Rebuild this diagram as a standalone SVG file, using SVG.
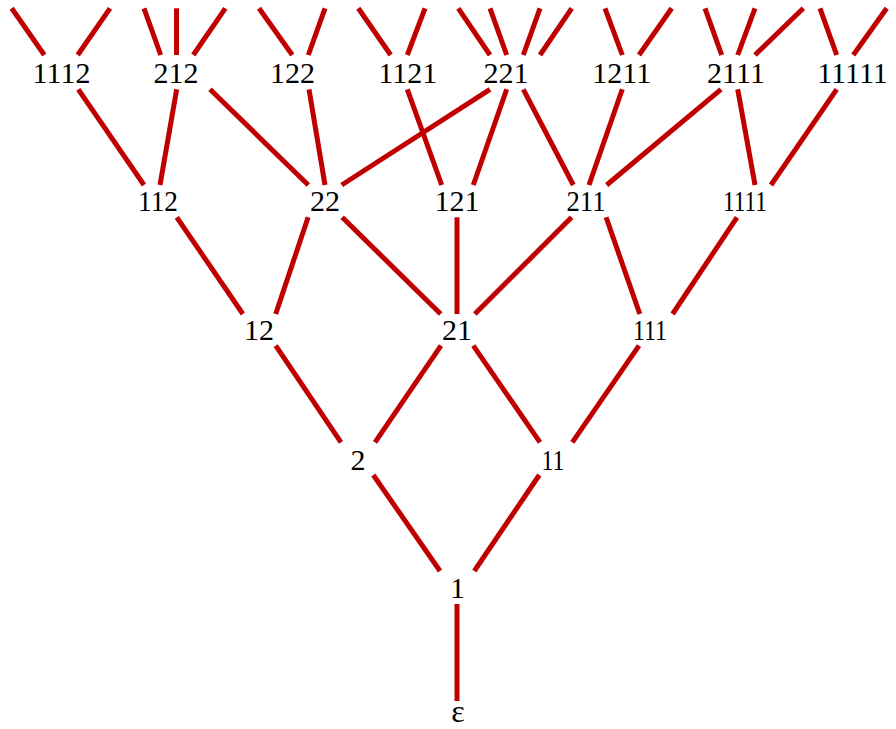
<svg xmlns="http://www.w3.org/2000/svg" width="896" height="729" viewBox="0 0 896 729">
<style>
.e line{stroke:#c00000;stroke-width:5;stroke-linecap:butt}
text{font-family:"Liberation Serif","Times New Roman",serif;font-size:30px;fill:#000;text-anchor:middle}
</style>
<rect width="896" height="729" fill="#fff"/>
<g id="connectors" class="e">
<line x1="11.7" y1="8.3" x2="44.3" y2="55"/>
<line x1="110" y1="8.3" x2="77.7" y2="55"/>
<line x1="144" y1="8.3" x2="160.7" y2="55"/>
<line x1="176.5" y1="8.3" x2="176.5" y2="55"/>
<line x1="225.3" y1="8.3" x2="193.3" y2="55"/>
<line x1="259" y1="8.3" x2="292.3" y2="55"/>
<line x1="325" y1="8.3" x2="308.3" y2="55"/>
<line x1="358.3" y1="8.3" x2="390.7" y2="55"/>
<line x1="425" y1="8.3" x2="407.3" y2="55"/>
<line x1="458.3" y1="8.3" x2="490" y2="55"/>
<line x1="490" y1="8.3" x2="506.7" y2="55"/>
<line x1="540" y1="8.3" x2="523.3" y2="55"/>
<line x1="571.7" y1="8.3" x2="540" y2="55"/>
<line x1="605" y1="8.3" x2="622.3" y2="55"/>
<line x1="671.7" y1="8.3" x2="639" y2="55"/>
<line x1="705" y1="8.3" x2="721.7" y2="55"/>
<line x1="755" y1="8.3" x2="737.7" y2="55"/>
<line x1="803.3" y1="8.3" x2="755" y2="55"/>
<line x1="820" y1="8.3" x2="836.7" y2="55"/>
<line x1="886.7" y1="8.3" x2="853.3" y2="55"/>

<line x1="78.3" y1="89.3" x2="144" y2="185"/>
<line x1="176.7" y1="89.3" x2="160" y2="185"/>
<line x1="210" y1="89.3" x2="308.3" y2="185"/>
<line x1="309" y1="89.3" x2="325" y2="185"/>
<line x1="407.3" y1="89.3" x2="441.7" y2="185"/>
<line x1="490" y1="89.3" x2="341.7" y2="185"/>
<line x1="506.7" y1="89.3" x2="473.3" y2="185"/>
<line x1="523.3" y1="89.3" x2="573.3" y2="185"/>
<line x1="622.3" y1="89.3" x2="589" y2="185"/>
<line x1="721" y1="89.3" x2="606.7" y2="185"/>
<line x1="737.7" y1="89.3" x2="755" y2="185"/>
<line x1="836.7" y1="89.3" x2="771" y2="185"/>

<line x1="176.8" y1="217.3" x2="242.9" y2="314"/>
<line x1="308.1" y1="217.3" x2="275.7" y2="314"/>
<line x1="342.2" y1="217.3" x2="440.7" y2="314"/>
<line x1="457" y1="217.3" x2="457" y2="314"/>
<line x1="571.6" y1="217.3" x2="474.8" y2="314"/>
<line x1="606.1" y1="217.3" x2="639.8" y2="314"/>
<line x1="737" y1="217.3" x2="672.6" y2="314"/>

<line x1="275.7" y1="345.7" x2="341" y2="442.3"/>
<line x1="441" y1="345.7" x2="375" y2="442.3"/>
<line x1="473.3" y1="345.7" x2="540" y2="442.3"/>
<line x1="639" y1="345.7" x2="572.3" y2="442.3"/>

<line x1="373.3" y1="475" x2="440" y2="571"/>
<line x1="539.3" y1="475" x2="474.3" y2="571"/>
<line x1="457" y1="604" x2="457" y2="701"/>
</g>
<g id="n1112"><text x="61.5" y="83">1112</text></g>
<g id="n212"><text x="176" y="83">212</text></g>
<g id="n122"><text x="292.5" y="83">122</text></g>
<g id="n1121"><text x="407.7" y="83">1121</text></g>
<g id="n221"><text x="506" y="83">221</text></g>
<g id="n1211"><text x="621.7" y="83">1211</text></g>
<g id="n2111"><text x="736" y="83">2111</text></g>
<g id="n11111"><text x="852.5" y="83">11111</text></g>

<g id="n112"><text x="158" y="211" textLength="40" lengthAdjust="spacingAndGlyphs">112</text></g>
<g id="n22"><text x="325" y="211">22</text></g>
<g id="n121"><text x="457" y="211">121</text></g>
<g id="n211"><text x="586" y="211" textLength="39" lengthAdjust="spacingAndGlyphs">211</text></g>
<g id="n1111"><text x="745" y="211" textLength="44" lengthAdjust="spacingAndGlyphs">1111</text></g>

<g id="n12"><text x="259" y="340">12</text></g>
<g id="n21"><text x="457" y="340">21</text></g>
<g id="n111"><text x="650" y="340" textLength="34" lengthAdjust="spacingAndGlyphs">111</text></g>

<g id="n2"><text x="358" y="470">2</text></g>
<g id="n11"><text x="553" y="470" textLength="23" lengthAdjust="spacingAndGlyphs">11</text></g>

<g id="n1"><text x="457.5" y="598">1</text></g>
<g id="neps"><text x="458" y="722" style="font-size:32px">ε</text></g>
</svg>
